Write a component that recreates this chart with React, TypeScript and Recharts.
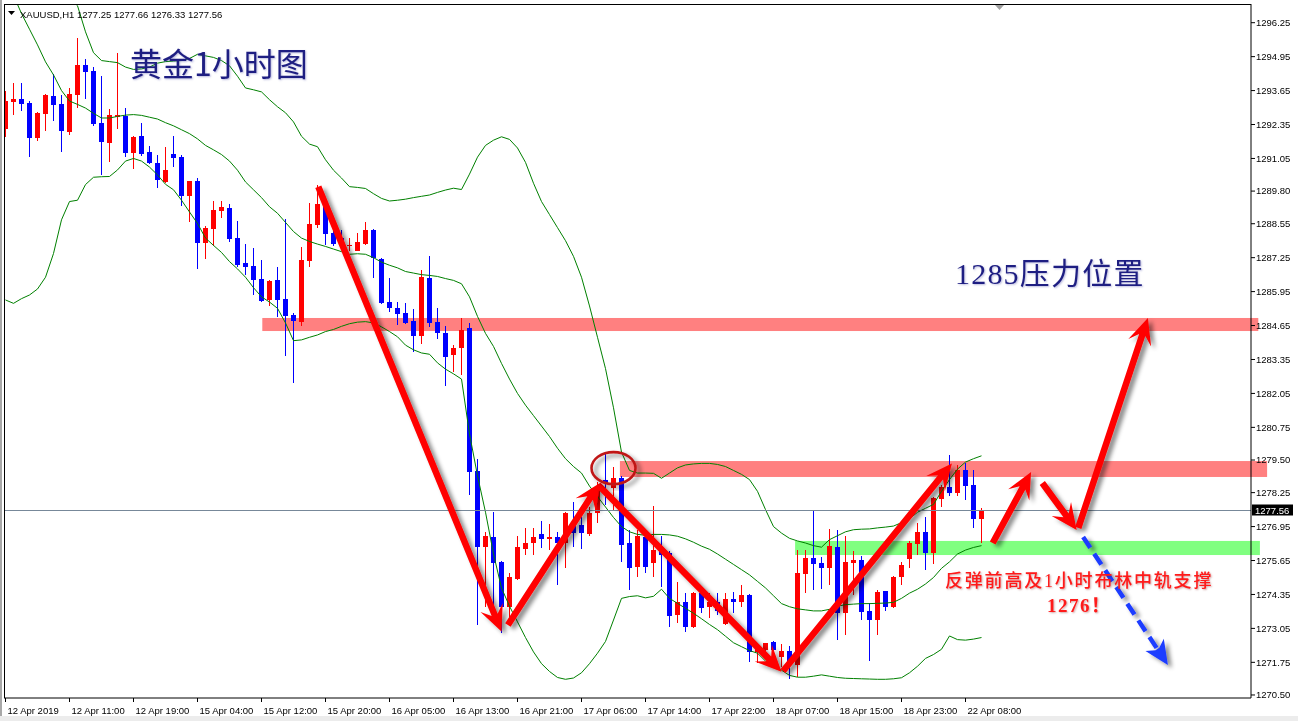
import React from "react";
import {
  ComposedChart,
  XAxis,
  YAxis,
  Bar,
  Line,
  ReferenceLine,
  ReferenceArea,
  ReferenceDot
} from "recharts";

// XAUUSD H1 candles, bar 0 = 12 Apr 03:00
const opens = [
  1292.17, 1293.22, 1293.31, 1293.17, 1291.82, 1292.76, 1293.44, 1293.14, 1292.07, 1293.48,
  1294.63, 1294.4, 1292.39, 1291.65, 1292.65, 1292.69, 1291.27, 1291.9, 1291.28, 1290.86,
  1290.16, 1291.21, 1291.1, 1289.62, 1290.17, 1287.82, 1288.36, 1289.05, 1289.15, 1288.0,
  1287.04, 1286.93, 1286.43, 1285.63, 1286.39, 1285.67, 1285.05, 1284.78, 1287.13, 1288.5,
  1289.31, 1288.18, 1288.0, 1287.7, 1287.52, 1287.77, 1288.31, 1287.19, 1285.55, 1285.33,
  1285.14, 1284.82, 1284.26, 1286.48, 1284.8, 1284.38, 1283.51, 1283.8, 1284.54, 1279.08,
  1276.16, 1276.55, 1275.6, 1273.88, 1274.93, 1276.09, 1276.31, 1276.65, 1276.48, 1276.54,
  1276.31, 1277.05, 1277.0, 1276.67, 1277.46, 1278.74, 1278.42, 1278.8, 1276.31, 1275.39,
  1276.54, 1275.57, 1276.05, 1275.93, 1273.57, 1274.08, 1273.12, 1274.4, 1273.88, 1274.08,
  1273.21, 1274.17, 1274.05, 1274.33, 1272.16, 1272.23, 1272.51, 1271.97, 1272.2, 1271.65,
  1275.14, 1275.76, 1275.57, 1275.38, 1276.18, 1273.63, 1275.57, 1275.67, 1273.73, 1273.37,
  1274.48, 1273.88, 1275.01, 1275.7, 1276.28, 1276.76, 1275.93, 1278.01, 1278.48, 1278.23,
  1279.12, 1278.54, 1277.25
];
const highs = [
  1293.63, 1293.95, 1293.95, 1293.25, 1292.82, 1293.52, 1294.28, 1293.48, 1293.74, 1295.68,
  1294.85, 1294.57, 1294.21, 1292.94, 1295.09, 1292.97, 1291.91, 1292.39, 1291.53, 1291.18,
  1291.5, 1291.92, 1291.18, 1290.2, 1290.3, 1288.46, 1289.42, 1289.42, 1289.29, 1288.65,
  1287.77, 1287.61, 1287.16, 1286.38, 1286.9, 1288.73, 1285.12, 1287.67, 1289.33, 1290.03,
  1289.4, 1288.41, 1288.3, 1287.99, 1288.18, 1288.63, 1288.35, 1287.22, 1286.46, 1285.56,
  1285.53, 1285.28, 1286.78, 1287.33, 1285.31, 1284.63, 1283.9, 1284.93, 1284.73, 1279.52,
  1276.76, 1277.52, 1275.65, 1275.16, 1276.57, 1276.88, 1276.88, 1277.18, 1277.05, 1276.76,
  1277.5, 1277.91, 1277.3, 1277.69, 1278.67, 1279.76, 1279.25, 1278.9, 1276.82, 1276.82,
  1276.57, 1277.74, 1276.59, 1276.0, 1274.84, 1274.4, 1274.46, 1274.45, 1274.4, 1274.4,
  1274.4, 1274.46, 1274.71, 1274.35, 1272.4, 1272.5, 1272.55, 1272.46, 1272.38, 1276.05,
  1276.05, 1277.56, 1275.8, 1276.85, 1276.82, 1276.59, 1276.03, 1275.83, 1274.04, 1274.52,
  1274.5, 1275.05, 1275.61, 1276.41, 1277.1, 1277.33, 1278.1, 1278.54, 1279.69, 1279.31,
  1279.37, 1279.12, 1277.66
];
const lows = [
  1291.88, 1292.71, 1292.88, 1291.09, 1291.73, 1292.1, 1292.5, 1291.3, 1291.95, 1292.99,
  1293.33, 1292.29, 1290.41, 1290.93, 1292.19, 1291.09, 1290.63, 1291.14, 1290.84, 1289.93,
  1290.12, 1290.74, 1289.24, 1288.63, 1286.8, 1287.21, 1287.71, 1288.78, 1287.86, 1286.91,
  1286.58, 1285.82, 1285.56, 1285.4, 1284.99, 1283.5, 1282.44, 1284.63, 1286.9, 1288.37,
  1287.73, 1287.7, 1287.6, 1287.52, 1287.5, 1287.73, 1286.46, 1285.46, 1285.16, 1284.67,
  1284.71, 1283.62, 1283.94, 1284.61, 1284.12, 1282.35, 1282.88, 1282.75, 1278.16, 1273.18,
  1273.88, 1273.82, 1272.86, 1273.5, 1274.9, 1275.86, 1275.86, 1276.12, 1276.05, 1274.71,
  1275.35, 1276.18, 1276.1, 1276.6, 1277.08, 1277.78, 1277.59, 1275.61, 1274.52, 1275.03,
  1275.16, 1275.03, 1274.65, 1273.09, 1273.25, 1272.93, 1273.05, 1273.63, 1273.44, 1273.57,
  1273.18, 1273.63, 1273.88, 1271.78, 1271.71, 1272.1, 1272.1, 1271.59, 1271.1, 1271.2,
  1274.4, 1274.52, 1274.55, 1274.71, 1272.61, 1272.8, 1274.33, 1273.37, 1271.79, 1272.8,
  1273.73, 1273.82, 1274.71, 1275.35, 1275.86, 1275.29, 1275.52, 1277.69, 1278.12, 1278.12,
  1277.97, 1276.91, 1276.33
];
const closes = [
  1293.25, 1293.31, 1293.15, 1291.84, 1292.79, 1293.48, 1293.11, 1292.11, 1293.52, 1294.63,
  1294.37, 1292.37, 1291.69, 1292.7, 1292.7, 1291.27, 1291.86, 1291.22, 1290.89, 1290.21,
  1290.6, 1291.08, 1289.62, 1290.17, 1287.82, 1288.39, 1289.07, 1289.19, 1287.96, 1286.97,
  1286.9, 1286.39, 1285.6, 1286.35, 1285.63, 1285.01, 1284.84, 1287.16, 1288.54, 1289.3,
  1288.16, 1287.77, 1287.75, 1287.75, 1287.85, 1288.31, 1287.22, 1285.53, 1285.31, 1285.1,
  1284.76, 1284.26, 1286.52, 1284.76, 1284.35, 1283.46, 1283.79, 1284.48, 1279.05, 1276.18,
  1276.57, 1275.57, 1273.88, 1275.03, 1276.16, 1276.31, 1276.54, 1276.48, 1276.54, 1276.31,
  1277.46, 1276.72, 1276.7, 1277.46, 1278.48, 1278.61, 1278.8, 1276.25, 1275.38, 1276.57,
  1275.42, 1276.05, 1275.86, 1273.54, 1274.08, 1273.12, 1274.4, 1273.85, 1274.08, 1273.73,
  1274.17, 1274.08, 1274.33, 1272.14, 1272.35, 1272.48, 1272.23, 1272.2, 1271.65, 1275.16,
  1275.74, 1275.52, 1275.38, 1276.21, 1273.63, 1275.61, 1275.67, 1273.69, 1273.37, 1274.46,
  1273.88, 1275.03, 1275.48, 1276.31, 1276.76, 1275.93, 1278.03, 1278.48, 1278.23, 1279.12,
  1278.52, 1277.24, 1277.56
];

// Bollinger bands as drawn on the chart
const bbUpper = [
  1298.2, 1298.3, 1298.3, 1298.2, 1298.0, 1297.8, 1297.6, 1297.4, 1297.2, 1296.9,
  1295.9, 1295.1, 1294.8, 1294.76, 1294.72, 1294.55, 1294.46, 1294.48, 1294.55, 1294.7,
  1294.76, 1294.78, 1294.8, 1294.88, 1295.04, 1294.98, 1294.92, 1294.8, 1294.6, 1294.2,
  1293.75, 1293.68, 1293.6, 1293.3, 1293.03, 1292.8, 1292.45, 1291.9, 1291.6, 1291.5,
  1291.0, 1290.6, 1290.3, 1289.97, 1289.94, 1289.9, 1289.7, 1289.52, 1289.42, 1289.45,
  1289.49, 1289.55, 1289.6, 1289.65, 1289.75, 1289.84, 1289.91, 1289.86, 1290.45, 1291.1,
  1291.55, 1291.75, 1291.88, 1291.78, 1291.45, 1290.9, 1290.1, 1289.4, 1288.9, 1288.4,
  1287.9, 1287.3, 1286.5, 1285.4, 1284.2, 1283.0, 1281.5, 1279.8, 1279.1, 1279.0,
  1279.0, 1278.99, 1278.8, 1279.0, 1279.2, 1279.31, 1279.35, 1279.37, 1279.37, 1279.33,
  1279.25, 1279.1, 1278.95, 1278.75, 1278.3, 1277.6, 1276.95, 1276.7, 1276.5, 1276.4,
  1276.32, 1276.22, 1276.16, 1276.45, 1276.6, 1276.75, 1276.83, 1276.85, 1276.86, 1276.9,
  1276.93, 1276.97, 1277.1, 1277.25, 1277.5, 1277.65, 1277.8, 1278.3, 1278.75, 1279.15,
  1279.42, 1279.55, 1279.66
];
const bbMiddle = [
  1297.9, 1297.3, 1296.6, 1296.0, 1295.4, 1294.75, 1294.25, 1293.65, 1293.25, 1293.12,
  1292.98, 1292.78, 1292.6, 1292.6, 1292.66, 1292.71, 1292.73, 1292.7, 1292.63, 1292.56,
  1292.42, 1292.3, 1292.15, 1292.0, 1291.8, 1291.55, 1291.38, 1291.2, 1290.95, 1290.6,
  1290.15, 1289.85, 1289.55, 1289.2, 1288.95, 1288.6, 1288.25, 1288.0, 1287.87, 1287.77,
  1287.68, 1287.58, 1287.48, 1287.38, 1287.4, 1287.38, 1287.25, 1287.08, 1286.96, 1286.86,
  1286.72, 1286.66, 1286.6, 1286.57, 1286.53, 1286.45, 1286.38, 1286.25, 1285.75, 1285.0,
  1284.35, 1283.85, 1283.2, 1282.6, 1282.05, 1281.6, 1281.2, 1280.8, 1280.4, 1279.95,
  1279.55, 1279.25, 1279.0, 1278.5, 1278.1, 1277.7, 1277.3, 1276.95, 1276.75, 1276.65,
  1276.62, 1276.65, 1276.65, 1276.63, 1276.58, 1276.48, 1276.35, 1276.2, 1276.08, 1275.9,
  1275.7, 1275.5, 1275.3, 1275.1, 1274.85, 1274.6, 1274.3, 1274.0, 1273.88, 1273.8,
  1273.76, 1273.72, 1273.72, 1273.78, 1273.9, 1273.96, 1273.98, 1274.0, 1274.0, 1274.01,
  1274.02, 1274.05, 1274.2, 1274.4, 1274.55, 1274.75, 1275.0, 1275.35, 1275.6, 1275.9,
  1276.05, 1276.15, 1276.22
];
const bbLower = [
  1285.63, 1285.5, 1285.68, 1285.82, 1286.05, 1286.5, 1287.41, 1288.7, 1289.4, 1289.45,
  1290.05, 1290.33, 1290.35, 1290.36, 1290.61, 1290.95, 1291.05, 1290.95, 1290.72, 1290.42,
  1290.06, 1289.85, 1289.45, 1289.0, 1288.56, 1288.0, 1287.72, 1287.45, 1287.1, 1286.82,
  1286.5, 1286.1, 1285.75, 1285.55, 1285.31, 1284.75, 1284.07, 1284.1, 1284.2, 1284.29,
  1284.42, 1284.5, 1284.62, 1284.72, 1284.78, 1284.8, 1284.75, 1284.6, 1284.42, 1284.22,
  1283.9, 1283.72, 1283.6, 1283.55, 1283.22, 1282.98, 1282.8, 1282.6, 1280.5, 1278.9,
  1277.5, 1275.9, 1274.6, 1273.9, 1273.3, 1272.7, 1272.15, 1271.7, 1271.4, 1271.17,
  1271.1, 1271.15, 1271.35, 1271.7, 1272.1, 1272.55, 1273.37, 1274.2, 1274.27, 1274.3,
  1274.22, 1274.28, 1274.55, 1274.2, 1274.01, 1273.82, 1273.63, 1273.42, 1273.2, 1273.0,
  1272.75, 1272.5, 1272.35, 1272.2, 1272.1, 1271.8, 1271.6, 1271.45, 1271.25, 1271.18,
  1271.18, 1271.22, 1271.27, 1271.22, 1271.17, 1271.14, 1271.13, 1271.12, 1271.11, 1271.1,
  1271.1, 1271.12, 1271.16, 1271.35, 1271.6, 1271.9, 1272.05, 1272.25, 1272.76, 1272.62,
  1272.6, 1272.64, 1272.7
];

// one label every 8 bars
const timeLabels = [
  "12 Apr 2019", "12 Apr 11:00", "12 Apr 19:00", "15 Apr 04:00", "15 Apr 12:00",
  "15 Apr 20:00", "16 Apr 05:00", "16 Apr 13:00", "16 Apr 21:00", "17 Apr 06:00",
  "17 Apr 14:00", "17 Apr 22:00", "18 Apr 07:00", "18 Apr 15:00", "18 Apr 23:00",
  "22 Apr 08:00"
];
const timeTicks = timeLabels.map((_, k) => k * 8);

const priceTicks = [
  1270.5, 1271.75, 1273.05, 1274.35, 1275.65, 1276.95, 1278.25, 1279.5, 1280.75,
  1282.05, 1283.35, 1284.65, 1285.95, 1287.25, 1288.55, 1289.8, 1291.05, 1292.35,
  1293.65, 1294.95, 1296.25
];

// drawn zones and arrows (bar index, price)
const zones = [
  { x1: 32.1, x2: 156.6, y1: 1284.44, y2: 1284.94, fill: "#ff8080" },
  { x1: 76.8, x2: 157.7, y1: 1278.85, y2: 1279.46, fill: "#ff8080" },
  { x1: 98.7, x2: 156.8, y1: 1275.86, y2: 1276.4, fill: "#80ff80" }
];
const trendArrows = [
  { from: [39.1, 1289.97], to: [62.0, 1272.93] },
  { from: [62.8, 1273.18], to: [74.3, 1278.62] },
  { from: [74.1, 1278.54], to: [97.0, 1271.39] },
  { from: [97.2, 1271.42], to: [118.3, 1279.37] },
  { from: [123.4, 1276.32], to: [128.2, 1279.04] },
  { from: [129.6, 1278.62], to: [133.9, 1276.82] },
  { from: [134.1, 1276.9], to: [142.8, 1284.94] }
];
const dashedArrow = { from: [134.7, 1276.55], to: [145.3, 1271.65] };
const circleAt = { x: 76.0, y: 1279.19 };

const last = opens.length - 1;
const lastPrice = closes[last];

const rows = opens.map((open, i) => ({
  i,
  open,
  high: highs[i],
  low: lows[i],
  close: closes[i],
  range: [lows[i], highs[i]],
  upper: bbUpper[i],
  middle: bbMiddle[i],
  lower: bbLower[i]
}));

const Candle = (props: any) => {
  const { x, y, width, height, payload } = props;
  if (!payload || height == null) return null;
  const { open, close, high, low } = payload;
  const top = Math.min(y, y + height);
  const h = Math.abs(height);
  const k = high - low > 0 ? h / (high - low) : 0;
  const py = (v: number) => top + (high - v) * k;
  const cx = Math.floor(x + width / 2) + 0.5;
  const color = close >= open ? "#ff0000" : "#0000ff";
  const bTop = py(Math.max(open, close));
  const bBot = py(Math.min(open, close));
  return (
    <g shapeRendering="crispEdges">
      <line x1={cx} x2={cx} y1={top} y2={top + h} stroke={color} strokeWidth={1} />
      <rect
        x={cx - 2.5}
        y={bTop}
        width={5}
        height={Math.max(1, bBot - bTop)}
        fill={color}
      />
    </g>
  );
};

const TimeTick = (props: any) => {
  const { x, y, payload } = props;
  const label = timeLabels[Math.round(payload.value / 8)];
  const px = Math.floor(x) + 0.5;
  return (
    <g>
      <line x1={px} x2={px} y1={y} y2={y + 4} stroke="#000" />
      <text
        x={px + 2}
        y={y + 15.5}
        fontSize={9.5}
        fill="#000"
        fontFamily="'Liberation Sans', Arial, sans-serif"
      >
        {label}
      </text>
    </g>
  );
};

const arrowPoints = (
  x1: number, y1: number, x2: number, y2: number,
  shaft: number, headLen: number, headHalf: number, notch: number
) => {
  const len = Math.hypot(x2 - x1, y2 - y1) || 1;
  const ux = (x2 - x1) / len;
  const uy = (y2 - y1) / len;
  const nx = -uy;
  const ny = ux;
  const bx = x2 - ux * headLen;
  const by = y2 - uy * headLen;
  const kx = x2 - ux * (headLen - notch);
  const ky = y2 - uy * (headLen - notch);
  const s = shaft / 2;
  return {
    neck: [kx, ky],
    head: [
      [kx + nx * s, ky + ny * s],
      [bx + nx * headHalf, by + ny * headHalf],
      [x2, y2],
      [bx - nx * headHalf, by - ny * headHalf],
      [kx - nx * s, ky - ny * s]
    ],
    full: [
      [x1 + nx * s, y1 + ny * s],
      [kx + nx * s, ky + ny * s],
      [bx + nx * headHalf, by + ny * headHalf],
      [x2, y2],
      [bx - nx * headHalf, by - ny * headHalf],
      [kx - nx * s, ky - ny * s],
      [x1 - nx * s, y1 - ny * s]
    ]
  };
};

const ptsStr = (p: number[][]) => p.map((q) => `${q[0]},${q[1]}`).join(" ");

const RedArrow = (props: any) => {
  const { x1, y1, x2, y2 } = props;
  if ([x1, y1, x2, y2].some((v) => v == null || isNaN(v))) return null;
  const a = arrowPoints(x1, y1, x2, y2, 6.5, 26, 12, 8);
  return <polygon points={ptsStr(a.full)} fill="#ff0000" filter="url(#arrowShadow)" />;
};

const BlueArrow = (props: any) => {
  const { x1, y1, x2, y2 } = props;
  if ([x1, y1, x2, y2].some((v) => v == null || isNaN(v))) return null;
  const a = arrowPoints(x1, y1, x2, y2, 4.5, 24, 11, 5);
  return (
    <g filter="url(#arrowShadow)">
      <line
        x1={x1}
        y1={y1}
        x2={a.neck[0]}
        y2={a.neck[1]}
        stroke="#1e3cff"
        strokeWidth={4.5}
        strokeDasharray="13 7"
      />
      <polygon points={ptsStr(a.head)} fill="#1e3cff" />
    </g>
  );
};

const BidLine = (props: any) => {
  const { x1, y1, x2 } = props;
  if (y1 == null) return null;
  const yy = Math.floor(y1) + 0.5;
  const left = Math.min(x1, x2);
  const right = Math.max(x1, x2);
  return (
    <g>
      <line x1={left} x2={right} y1={yy} y2={yy} stroke="#778899" strokeWidth={1} />
      <rect x={right + 1} y={yy - 6} width={41} height={11} fill="#000" />
      <text
        x={right + 4}
        y={yy + 3.5}
        fontSize={9.5}
        fill="#fff"
        fontFamily="'Liberation Sans', Arial, sans-serif"
      >
        {lastPrice.toFixed(2)}
      </text>
    </g>
  );
};

const ZoneRect = (props: any) => (
  <rect
    x={props.x}
    y={props.y}
    width={props.width}
    height={props.height}
    fill={props.fill}
    style={{ mixBlendMode: "multiply" }}
  />
);

const Circle = (props: any) => {
  const { cx, cy } = props;
  if (cx == null || cy == null) return null;
  return (
    <ellipse
      cx={cx}
      cy={cy}
      rx={22}
      ry={16}
      fill="none"
      stroke="#c01818"
      strokeWidth={2.6}
      filter="url(#arrowShadow)"
    />
  );
};

const App = () => {
  return (
    <div
      style={{
        position: "relative",
        width: 1298,
        height: 721,
        background: "#fff",
        overflow: "hidden",
        fontFamily: "'Liberation Sans', Arial, sans-serif"
      }}
    >
      <style>{"body{margin:0}"}</style>
      <ComposedChart
        width={1298}
        height={721}
        data={rows}
        margin={{ top: 4, right: 0, bottom: 0, left: 4 }}
      >
        <defs>
          <filter id="arrowShadow" x="-20%" y="-20%" width="140%" height="140%">
            <feDropShadow dx="4" dy="3" stdDeviation="2.2" floodColor="#000" floodOpacity="0.45" />
          </filter>
        </defs>
        <XAxis
          type="number"
          dataKey="i"
          domain={[-0.1875, 155.6875]}
          allowDataOverflow
          ticks={timeTicks}
          interval={0}
          tick={<TimeTick />}
          tickLine={false}
          tickSize={0}
          tickMargin={0}
          axisLine={{ stroke: "#000" }}
          height={23}
        />
        <YAxis
          orientation="right"
          domain={[1270.384, 1296.966]}
          allowDataOverflow
          ticks={priceTicks}
          interval={0}
          tickFormatter={(v: number) => v.toFixed(2)}
          tick={{ fontSize: 9.5, fill: "#000", fontFamily: "'Liberation Sans', Arial, sans-serif" }}
          tickLine={{ stroke: "#000" }}
          tickSize={4}
          tickMargin={1}
          axisLine={{ stroke: "#000" }}
          width={47}
        />
        <Bar dataKey="range" barSize={5} shape={(p: any) => <Candle {...p} />} isAnimationActive={false} />
        <Line type="linear" dataKey="upper" stroke="#008000" strokeWidth={1} dot={false} activeDot={false} isAnimationActive={false} />
        <Line type="linear" dataKey="middle" stroke="#008000" strokeWidth={1} dot={false} activeDot={false} isAnimationActive={false} />
        <Line type="linear" dataKey="lower" stroke="#008000" strokeWidth={1} dot={false} activeDot={false} isAnimationActive={false} />
        <ReferenceLine y={lastPrice} shape={(p: any) => <BidLine {...p} />} />
        {zones.map((z, k) => (
          <ReferenceArea
            key={`z${k}`}
            x1={z.x1}
            x2={z.x2}
            y1={z.y1}
            y2={z.y2}
            fill={z.fill}
            fillOpacity={1}
            ifOverflow="visible"
            shape={(p: any) => <ZoneRect {...p} fill={z.fill} />}
          />
        ))}
        <ReferenceDot x={circleAt.x} y={circleAt.y} r={20} shape={(p: any) => <Circle {...p} />} />
        {trendArrows.map((a, k) => (
          <ReferenceLine
            key={`a${k}`}
            segment={[
              { x: a.from[0], y: a.from[1] },
              { x: a.to[0], y: a.to[1] }
            ]}
            shape={(p: any) => <RedArrow {...p} />}
          />
        ))}
        <ReferenceLine
          segment={[
            { x: dashedArrow.from[0], y: dashedArrow.from[1] },
            { x: dashedArrow.to[0], y: dashedArrow.to[1] }
          ]}
          shape={(p: any) => <BlueArrow {...p} />}
        />
      </ComposedChart>

      <svg
        width={1298}
        height={721}
        style={{ position: "absolute", left: 0, top: 0, pointerEvents: "none" }}
      >
        {/* window frame */}
        <rect x={0} y={0} width={2} height={721} fill="#a8a8a8" />
        <rect x={0} y={716} width={1298} height={5} fill="#ececec" />
        <line x1={4.5} y1={4} x2={4.5} y2={698} stroke="#000" />
        <line x1={4} y1={4.5} x2={1251} y2={4.5} stroke="#000" />
        <polygon points="995,5 1004,5 999.5,10" fill="#a0a0a0" />

        {/* header */}
        <polygon points="8,11 15,11 11.5,15" fill="#000" />
        <text x={20} y={17.5} fontSize={9.5} fill="#000" fontFamily="'Liberation Sans', Arial, sans-serif">
          {`XAUUSD,H1  ${opens[last].toFixed(2)} ${highs[last].toFixed(2)} ${lows[last].toFixed(2)} ${closes[last].toFixed(2)}`}
        </text>

        {/* notes */}
        <text
          x={130}
          y={76}
          fontSize={32}
          fill="#1e1e82"
          fontFamily="'Noto Sans CJK SC', sans-serif"
          style={{ textShadow: "1px 1px 2px rgba(60,60,160,0.35)" }}
        >
          黄金1小时图
        </text>
        <text
          x={955}
          y={284}
          fontSize={30}
          letterSpacing={1.2}
          fill="#1e1e82"
          fontFamily="'Liberation Serif', 'Noto Sans CJK SC', serif"
          style={{ textShadow: "1px 1px 2px rgba(60,60,160,0.35)" }}
        >
          1285压力位置
        </text>
        <text
          x={945}
          y={587}
          fontSize={18}
          fill="#ff1a1a"
          letterSpacing={1.8}
          fontFamily="'Liberation Serif', 'Noto Sans CJK SC', serif"
          fontWeight={500}
          style={{ textShadow: "1px 1px 2px rgba(120,0,0,0.35)" }}
        >
          反弹前高及1小时布林中轨支撑
        </text>
        <text
          x={1047}
          y={612}
          fontSize={19}
          letterSpacing={1.5}
          fill="#ff1a1a"
          fontFamily="'Liberation Serif', 'Noto Sans CJK SC', serif"
          fontWeight={700}
          style={{ textShadow: "1px 1px 2px rgba(120,0,0,0.35)" }}
        >
          1276！
        </text>
      </svg>
    </div>
  );
};

export default App;
